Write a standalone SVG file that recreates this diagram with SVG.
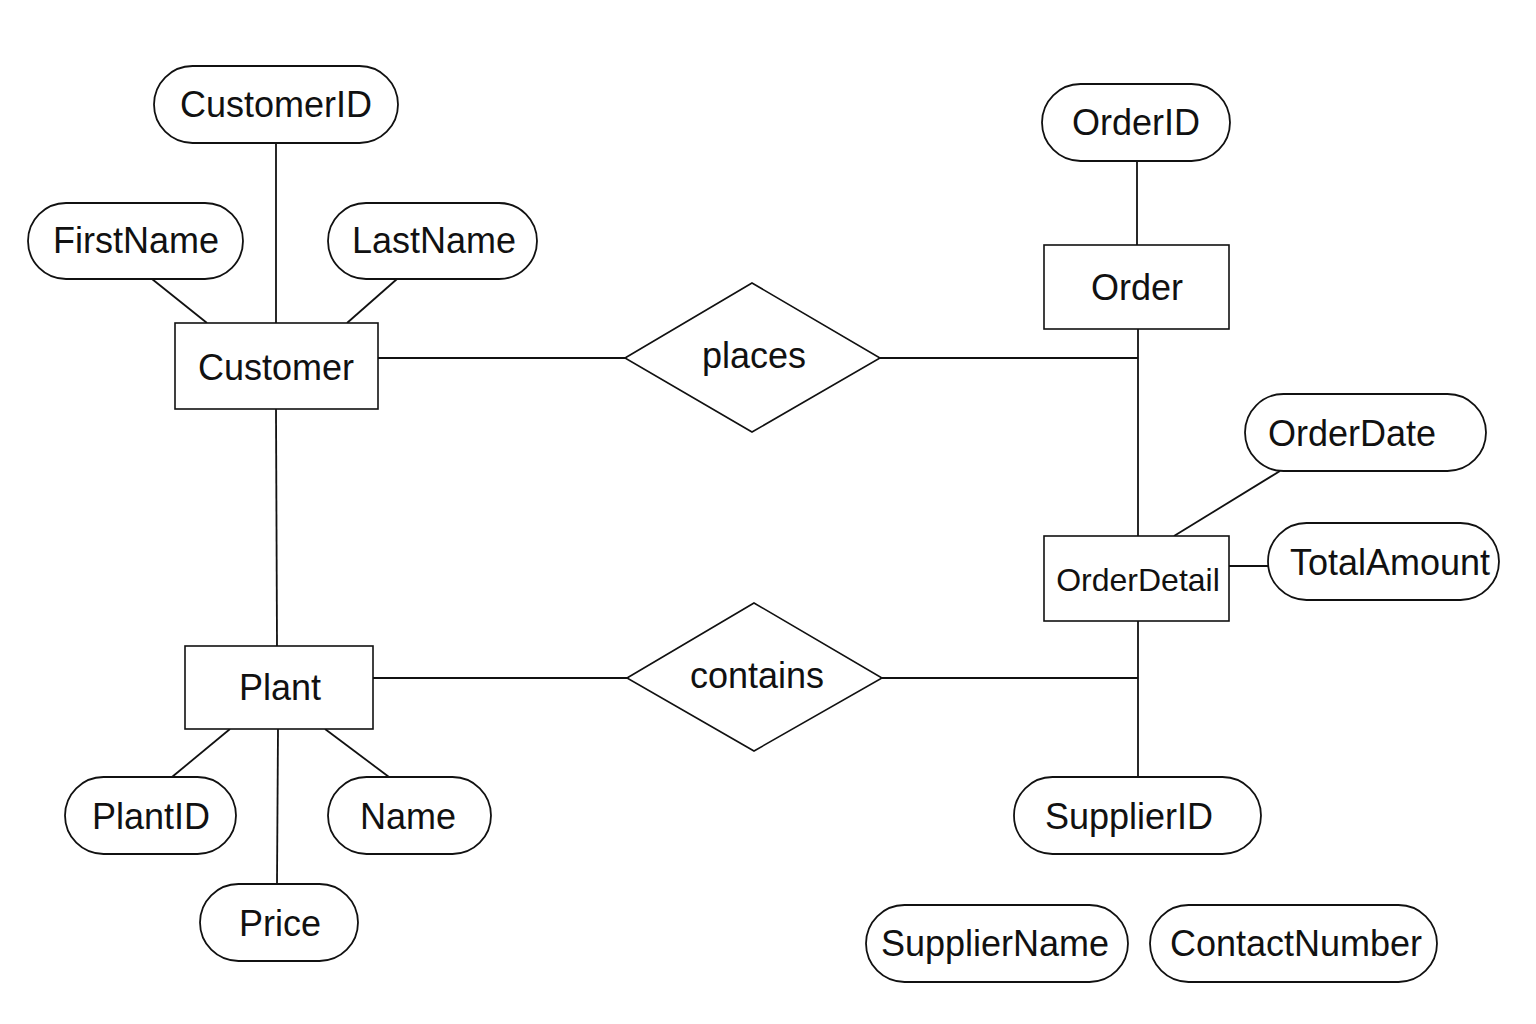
<svg xmlns="http://www.w3.org/2000/svg" width="1536" height="1024" viewBox="0 0 1536 1024">
<style>
.attr{fill:#fff;stroke:#111;stroke-width:1.8}
.ent{fill:#fff;stroke:#111;stroke-width:1.6}
.rel{fill:#fff;stroke:#111;stroke-width:1.6}
.t{font-family:"Liberation Sans",Arial,sans-serif;font-size:36px;fill:#111;text-anchor:middle}
.s{font-size:32px}
#connectors line{stroke:#111;stroke-width:1.8}
</style>
<rect width="1536" height="1024" fill="#fff"/>
<g id="connectors">
<line x1="276" y1="143" x2="276" y2="323"/>
<line x1="152" y1="279" x2="207" y2="323"/>
<line x1="397" y1="279" x2="347" y2="323"/>
<line x1="378" y1="358" x2="625" y2="358"/>
<line x1="880" y1="358" x2="1138" y2="358"/>
<line x1="1137" y1="161" x2="1137" y2="245"/>
<line x1="1138" y1="329" x2="1138" y2="536"/>
<line x1="1280" y1="471" x2="1174" y2="536"/>
<line x1="1229" y1="566" x2="1268" y2="566"/>
<line x1="1138" y1="621" x2="1138" y2="777"/>
<line x1="882" y1="678" x2="1138" y2="678"/>
<line x1="373" y1="678" x2="627" y2="678"/>
<line x1="276" y1="409" x2="277" y2="646"/>
<line x1="230" y1="729" x2="172" y2="777"/>
<line x1="325" y1="729" x2="389" y2="777"/>
<line x1="278" y1="729" x2="277" y2="884"/>
</g>
<g id="CustomerID"><rect class="attr" x="154" y="66" width="244" height="77" rx="38.5"/><text class="t" x="276" y="117">CustomerID</text></g>
<g id="FirstName"><rect class="attr" x="28" y="203" width="215" height="76" rx="38"/><text class="t" x="136" y="253">FirstName</text></g>
<g id="LastName"><rect class="attr" x="328" y="203" width="209" height="76" rx="38"/><text class="t" x="434" y="253">LastName</text></g>
<g id="Customer"><rect class="ent" x="175" y="323" width="203" height="86"/><text class="t" x="276" y="380">Customer</text></g>
<g id="places"><polygon class="rel" points="625,358 752,283 880,358 752,432"/><text class="t" x="754" y="368">places</text></g>
<g id="OrderID"><rect class="attr" x="1042" y="84" width="188" height="77" rx="38.5"/><text class="t" x="1136" y="135">OrderID</text></g>
<g id="Order"><rect class="ent" x="1044" y="245" width="185" height="84"/><text class="t" x="1137" y="300">Order</text></g>
<g id="OrderDate"><rect class="attr" x="1245" y="394" width="241" height="77" rx="38.5"/><text class="t" x="1352" y="446">OrderDate</text></g>
<g id="OrderDetail"><rect class="ent" x="1044" y="536" width="185" height="85"/><text class="t s" x="1138" y="591">OrderDetail</text></g>
<g id="TotalAmount"><rect class="attr" x="1268" y="523" width="231" height="77" rx="38.5"/><text class="t" x="1390" y="575">TotalAmount</text></g>
<g id="contains"><polygon class="rel" points="627,678 754,603 882,678 754,751"/><text class="t" x="757" y="688">contains</text></g>
<g id="Plant"><rect class="ent" x="185" y="646" width="188" height="83"/><text class="t" x="280" y="700">Plant</text></g>
<g id="PlantID"><rect class="attr" x="65" y="777" width="171" height="77" rx="38.5"/><text class="t" x="151" y="829">PlantID</text></g>
<g id="Name"><rect class="attr" x="328" y="777" width="163" height="77" rx="38.5"/><text class="t" x="408" y="829">Name</text></g>
<g id="Price"><rect class="attr" x="200" y="884" width="158" height="77" rx="38.5"/><text class="t" x="280" y="936">Price</text></g>
<g id="SupplierID"><rect class="attr" x="1014" y="777" width="247" height="77" rx="38.5"/><text class="t" x="1129" y="829">SupplierID</text></g>
<g id="SupplierName"><rect class="attr" x="866" y="905" width="262" height="77" rx="38.5"/><text class="t" x="995" y="956">SupplierName</text></g>
<g id="ContactNumber"><rect class="attr" x="1150" y="905" width="287" height="77" rx="38.5"/><text class="t" x="1296" y="956">ContactNumber</text></g>
</svg>
